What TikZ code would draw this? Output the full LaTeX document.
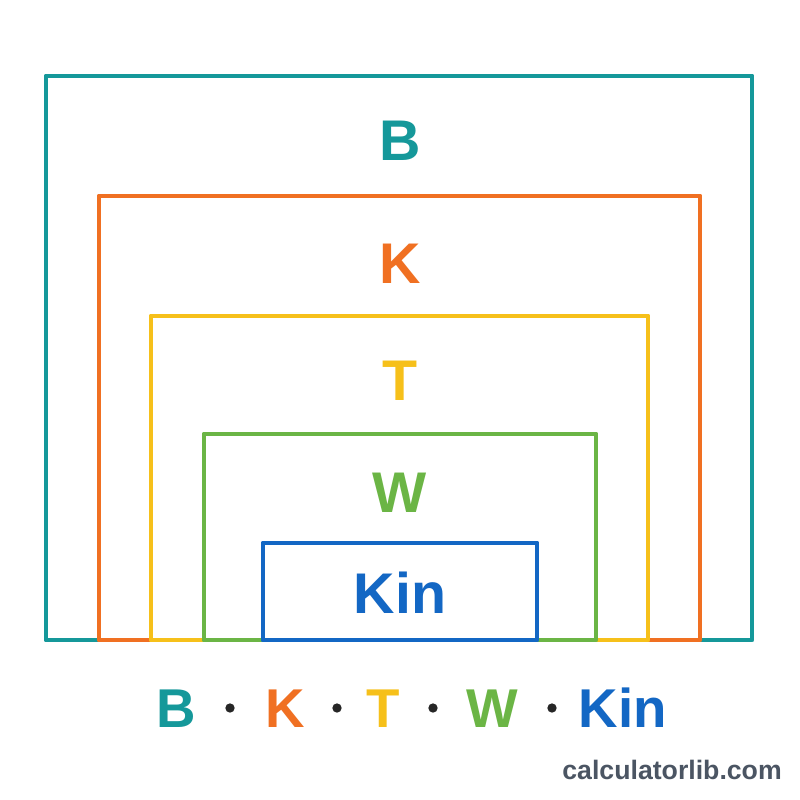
\documentclass[tikz,border=0pt]{standalone}
\usepackage{fontspec}
\setmainfont{Liberation Sans}
\definecolor{cB}{HTML}{15989A}
\definecolor{cK}{HTML}{F07022}
\definecolor{cT}{HTML}{F6C01A}
\definecolor{cW}{HTML}{6BB545}
\definecolor{cKin}{HTML}{1367C4}
\definecolor{cWeb}{HTML}{4B5563}
\tikzset{
  box/.style={line width=3.7pt, line join=round},
  lbl/.style={anchor=base, inner sep=0pt, font=\fontsize{43}{43}\selectfont\bfseries},
  legend/.style={anchor=base, inner sep=0pt, font=\fontsize{41}{41}\selectfont\bfseries},
  sep/.style={circle, fill=black!85, inner sep=0pt, minimum size=7pt},
  web/.style={anchor=base east, inner sep=0pt, text=cWeb, font=\fontsize{20}{20}\selectfont\bfseries}
}
\begin{document}
\begin{tikzpicture}[x=0.75pt, y=-0.75pt]
\useasboundingbox[fill=white] (0,0) rectangle (800,800);
\draw[box, cB]   (46,76)   rectangle (752,640);
\draw[box, cK]   (99,196)  rectangle (700,640);
\draw[box, cT]   (151,316) rectangle (648,640);
\draw[box, cW]   (204,434) rectangle (596,640);
\draw[box, cKin] (263,543) rectangle (537,640);
\node[lbl, text=cB]   (lB)   at (400,160) {B};
\node[lbl, text=cK]   (lK)   at (400,283) {K};
\node[lbl, text=cT]   (lT)   at (400,400) {T};
\node[lbl, text=cW]   (lW)   at (400,512) {W};
\node[lbl, text=cKin] (lKin) at (400,613) {Kin};
\node[legend, text=cB]   (gB)   at (176,727) {B};
\node[sep] (d1) at (230,708) {};
\node[legend, text=cK]   (gK)   at (285,727) {K};
\node[sep] (d2) at (337,708) {};
\node[legend, text=cT]   (gT)   at (383,727) {T};
\node[sep] (d3) at (433,708) {};
\node[legend, text=cW]   (gW)   at (492,727) {W};
\node[sep] (d4) at (552,708) {};
\node[legend, text=cKin] (gKin) at (623,727) {Kin};
\node[web] (site) at (782,779) {calculatorlib.com};
\end{tikzpicture}
\end{document}
